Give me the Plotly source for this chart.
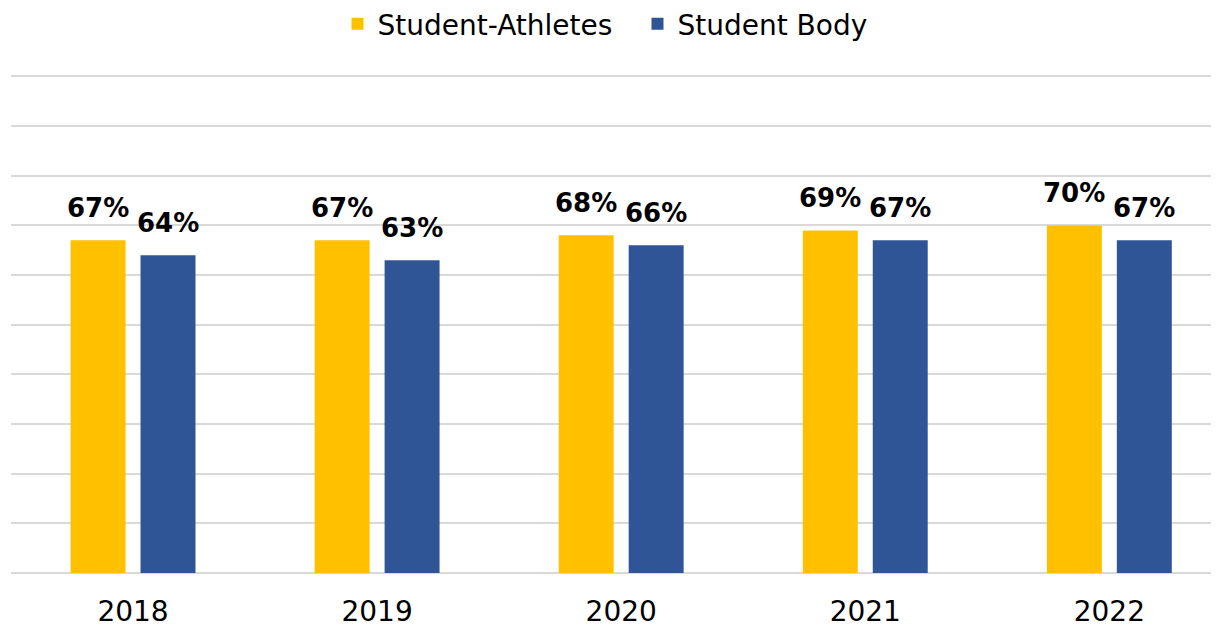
import plotly.graph_objects as go

years = ["2018", "2019", "2020", "2021", "2022"]
athletes = [0.67, 0.67, 0.68, 0.69, 0.70]
body = [0.64, 0.63, 0.66, 0.67, 0.67]
series_names = ["Student-Athletes", "Student Body"]
colors = ["#FFC000", "#2F5597"]

FONT = "DejaVu Sans, Arial, sans-serif"

fig = go.Figure()
for name, vals, col in zip(series_names, [athletes, body], colors):
    fig.add_trace(go.Bar(x=years, y=vals, name=name, marker_color=col,
                         marker_line_width=0))

offsets = [-35, 35]
for vals, dx in zip([athletes, body], offsets):
    for i, v in enumerate(vals):
        fig.add_annotation(x=i, y=v, xref="x", yref="y",
                           text=f"<b>{round(v*100)}%</b>",
                           showarrow=False, xshift=dx, yanchor="bottom",
                           yshift=15, font=dict(family=FONT, size=26, color="#000"))

fig.update_layout(
    width=1219, height=627,
    margin=dict(l=3, r=0, t=67, b=62, autoexpand=False),
    plot_bgcolor="white", paper_bgcolor="white",
    barmode="group", bargap=0.427, bargroupgap=0.214,
    showlegend=True,
    legend=dict(orientation="h", x=0.2685, xanchor="left", y=1.1024, yanchor="middle",
                font=dict(family=FONT, size=28, color="#000"),
                entrywidth=255, entrywidthmode="pixels",
                traceorder="normal"),
    font=dict(family=FONT, color="#000"),
)
fig.update_xaxes(type="category", range=[-0.5, 4.482], showgrid=False, showline=False,
                 automargin=False, ticks="", ticklabelstandoff=19,
                 tickfont=dict(family=FONT, size=28, color="#000"))
fig.update_yaxes(range=[0, 1.003], tickvals=[i / 10 for i in range(11)],
                 showticklabels=False, automargin=False,
                 showgrid=True, gridcolor="#D9D9D9", gridwidth=2,
                 zeroline=True, zerolinecolor="#D9D9D9", zerolinewidth=2)

fig.write_html("out.html")
